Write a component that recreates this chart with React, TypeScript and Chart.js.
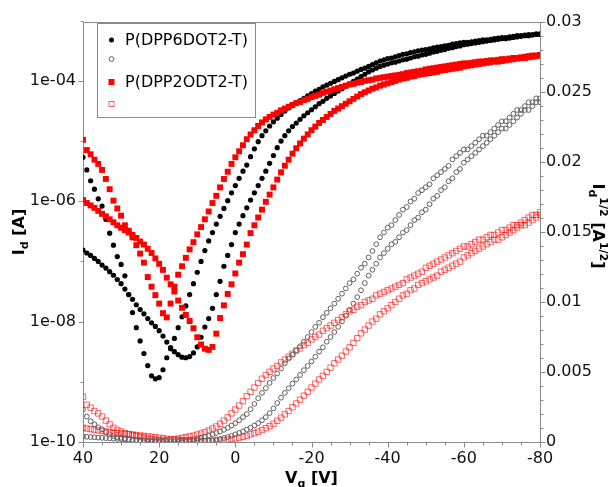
import React, { useEffect, useRef } from 'react';
import { Chart, registerables } from 'chart.js';

Chart.register(...registerables);

// Gate voltage sweep grid [V]
const VG = [
  40, 39, 38, 37, 36, 35, 34, 33, 32, 31,
  30, 29, 28, 27, 26, 25, 24, 23, 22, 21,
  20, 19, 18, 17, 16, 15, 14, 13, 12, 11,
  10, 9, 8, 7, 6, 5, 4, 3, 2, 1,
  0, -1, -2, -3, -4, -5, -6, -7, -8, -9,
  -10, -11, -12, -13, -14, -15, -16, -17, -18, -19,
  -20, -21, -22, -23, -24, -25, -26, -27, -28, -29,
  -30, -31, -32, -33, -34, -35, -36, -37, -38, -39,
  -40, -41, -42, -43, -44, -45, -46, -47, -48, -49,
  -50, -51, -52, -53, -54, -55, -56, -57, -58, -59,
  -60, -61, -62, -63, -64, -65, -66, -67, -68, -69,
  -70, -71, -72, -73, -74, -75, -76, -77, -78, -79,
  -80,
];

// log10(Id [A]) for P(DPP6DOT2-T), sweep A (sharp minimum)
const DPP6_SWEEP_A_LOG = [
  -5.27, -5.48, -5.66, -5.80, -5.96, -6.08, -6.30, -6.53, -6.73, -6.92,
  -7.05, -7.24, -7.55, -7.85, -8.10, -8.32, -8.53, -8.73, -8.90, -8.95,
  -8.93, -8.80, -8.60, -8.45, -8.28, -8.10, -7.92, -7.74, -7.55, -7.37,
  -7.18, -7.00, -6.82, -6.66, -6.52, -6.38, -6.25, -6.12, -5.99, -5.86,
  -5.74, -5.62, -5.50, -5.40, -5.26, -5.13, -5.01, -4.91, -4.83, -4.75,
  -4.68, -4.62, -4.56, -4.50, -4.45, -4.41, -4.37, -4.33, -4.29, -4.25,
  -4.21, -4.17, -4.14, -4.10, -4.07, -4.04, -4.01, -3.98, -3.95, -3.92,
  -3.89, -3.87, -3.84, -3.81, -3.79, -3.76, -3.73, -3.70, -3.67, -3.65,
  -3.63, -3.62, -3.60, -3.58, -3.56, -3.55, -3.53, -3.52, -3.50, -3.49,
  -3.48, -3.47, -3.45, -3.44, -3.43, -3.42, -3.41, -3.39, -3.38, -3.37,
  -3.36, -3.36, -3.35, -3.34, -3.33, -3.32, -3.32, -3.31, -3.30, -3.29,
  -3.28, -3.28, -3.27, -3.26, -3.25, -3.25, -3.24, -3.23, -3.23, -3.22,
  -3.22,
];

// log10(Id [A]) for P(DPP6DOT2-T), sweep B (shallow minimum)
const DPP6_SWEEP_B_LOG = [
  -6.81, -6.86, -6.90, -6.95, -7.00, -7.06, -7.11, -7.17, -7.23, -7.30,
  -7.37, -7.46, -7.55, -7.63, -7.72, -7.80, -7.87, -7.95, -8.02, -8.08,
  -8.15, -8.24, -8.34, -8.43, -8.50, -8.55, -8.59, -8.60, -8.58, -8.52,
  -8.42, -8.26, -8.09, -7.95, -7.78, -7.55, -7.33, -7.08, -6.90, -6.72,
  -6.52, -6.38, -6.24, -6.11, -5.98, -5.86, -5.74, -5.62, -5.50, -5.37,
  -5.24, -5.11, -5.00, -4.91, -4.83, -4.76, -4.70, -4.64, -4.58, -4.53,
  -4.48, -4.43, -4.38, -4.34, -4.29, -4.25, -4.21, -4.17, -4.13, -4.09,
  -4.05, -4.01, -3.97, -3.93, -3.89, -3.85, -3.82, -3.79, -3.76, -3.74,
  -3.72, -3.70, -3.69, -3.67, -3.65, -3.64, -3.62, -3.60, -3.59, -3.57,
  -3.56, -3.54, -3.52, -3.51, -3.49, -3.48, -3.46, -3.45, -3.43, -3.42,
  -3.40, -3.39, -3.38, -3.37, -3.36, -3.35, -3.34, -3.33, -3.32, -3.31,
  -3.30, -3.30, -3.29, -3.28, -3.27, -3.26, -3.25, -3.25, -3.24, -3.23,
  -3.23,
];

// log10(Id [A]) for P(DPP2ODT2-T), sweep A (sharp minimum)
const DPP2_SWEEP_A_LOG = [
  -4.98, -5.15, -5.22, -5.31, -5.38, -5.48, -5.63, -5.80, -5.99, -6.12,
  -6.24, -6.40, -6.49, -6.60, -6.73, -6.87, -7.02, -7.26, -7.42, -7.56,
  -7.70, -7.86, -7.93, -7.70, -7.42, -7.22, -7.08, -6.94, -6.80, -6.68,
  -6.55, -6.43, -6.30, -6.17, -6.03, -5.91, -5.77, -5.63, -5.51, -5.38,
  -5.27, -5.17, -5.07, -4.97, -4.89, -4.82, -4.75, -4.69, -4.64, -4.60,
  -4.56, -4.53, -4.49, -4.46, -4.43, -4.40, -4.37, -4.35, -4.32, -4.30,
  -4.27, -4.25, -4.23, -4.20, -4.18, -4.16, -4.14, -4.12, -4.10, -4.08,
  -4.06, -4.05, -4.03, -4.02, -4.00, -3.99, -3.98, -3.96, -3.95, -3.94,
  -3.93, -3.92, -3.91, -3.90, -3.89, -3.87, -3.86, -3.85, -3.84, -3.83,
  -3.81, -3.80, -3.79, -3.78, -3.77, -3.76, -3.75, -3.74, -3.73, -3.72,
  -3.71, -3.71, -3.70, -3.69, -3.68, -3.68, -3.67, -3.66, -3.66, -3.65,
  -3.64, -3.64, -3.63, -3.62, -3.62, -3.61, -3.60, -3.59, -3.58, -3.58,
  -3.57,
];

// log10(Id [A]) for P(DPP2ODT2-T), sweep B (shallow minimum)
const DPP2_SWEEP_B_LOG = [
  -5.98, -6.03, -6.07, -6.11, -6.16, -6.21, -6.25, -6.30, -6.35, -6.40,
  -6.44, -6.48, -6.52, -6.56, -6.61, -6.67, -6.72, -6.79, -6.86, -6.95,
  -7.04, -7.14, -7.27, -7.38, -7.50, -7.65, -7.77, -7.89, -7.99, -8.11,
  -8.26, -8.38, -8.45, -8.47, -8.42, -8.20, -7.94, -7.73, -7.54, -7.38,
  -7.20, -7.02, -6.88, -6.72, -6.53, -6.40, -6.27, -6.14, -6.01, -5.89,
  -5.77, -5.64, -5.52, -5.41, -5.31, -5.21, -5.12, -5.04, -4.96, -4.89,
  -4.82, -4.76, -4.70, -4.65, -4.60, -4.55, -4.50, -4.46, -4.42, -4.38,
  -4.34, -4.30, -4.26, -4.22, -4.19, -4.16, -4.13, -4.11, -4.08, -4.06,
  -4.04, -4.02, -4.00, -3.98, -3.96, -3.95, -3.93, -3.92, -3.90, -3.89,
  -3.88, -3.87, -3.86, -3.85, -3.83, -3.82, -3.81, -3.80, -3.79, -3.78,
  -3.76, -3.75, -3.74, -3.73, -3.72, -3.71, -3.70, -3.69, -3.68, -3.68,
  -3.67, -3.66, -3.65, -3.64, -3.63, -3.62, -3.62, -3.61, -3.60, -3.59,
  -3.58,
];

const LEGEND_LABELS = ['P(DPP6DOT2-T)', '', 'P(DPP2ODT2-T)', ''];

const X_TICKS = [40, 20, 0, -20, -40, -60, -80];
const X_TICK_LABELS = ['40', '20', '0', '-20', '-40', '-60', '-80'];
const Y_LOG_TICKS = [1e-10, 1e-8, 1e-6, 1e-4];
const Y_LOG_TICK_LABELS = ['1e-10', '1e-08', '1e-06', '1e-04'];
const Y_LOG_MINOR = [1e-9, 1e-7, 1e-5, 1e-3];
const Y2_TICKS = [0, 0.005, 0.01, 0.015, 0.02, 0.025, 0.03];
const Y2_TICK_LABELS = ['0', '0.005', '0.01', '0.015', '0.02', '0.025', '0.03'];

const FONT = '"DejaVu Sans", Verdana, sans-serif';
const AXIS_COLOR = '#8a8a8a';

type Seg = { t: string; size: number; dy: number };

function idPoints(logA: number[], logB: number[]) {
  const a = VG.map((v, i) => ({ x: v, y: Math.pow(10, logA[i]) }));
  const b = VG.map((v, i) => ({ x: v, y: Math.pow(10, logB[i]) }));
  return a.concat(b);
}
function sqrtPoints(logA: number[], logB: number[]) {
  const a = VG.map((v, i) => ({ x: v, y: Math.sqrt(Math.pow(10, logA[i])) }));
  const b = VG.map((v, i) => ({ x: v, y: Math.sqrt(Math.pow(10, logB[i])) }));
  return a.concat(b);
}

function drawRich(ctx: CanvasRenderingContext2D, segs: Seg[], cx: number, cy: number, rot: number) {
  ctx.save();
  ctx.translate(cx, cy);
  ctx.rotate(rot);
  ctx.fillStyle = '#000';
  ctx.textBaseline = 'alphabetic';
  ctx.textAlign = 'left';
  let total = 0;
  const widths: number[] = [];
  segs.forEach((s) => {
    ctx.font = `bold ${s.size}px ${FONT}`;
    const w = ctx.measureText(s.t).width;
    widths.push(w);
    total += w;
  });
  let x = -total / 2;
  segs.forEach((s, i) => {
    ctx.font = `bold ${s.size}px ${FONT}`;
    ctx.fillText(s.t, x, 6 + s.dy);
    x += widths[i];
  });
  ctx.restore();
}

const decorPlugin = {
  id: 'decor',
  afterDraw(chart: any) {
    const { ctx, chartArea: a, scales } = chart;
    const sx = scales.x;
    const sy = scales.y;
    const sy2 = scales.y2;
    ctx.save();
    ctx.strokeStyle = AXIS_COLOR;
    ctx.lineWidth = 1;
    const line = (x1: number, y1: number, x2: number, y2: number) => {
      ctx.beginPath();
      ctx.moveTo(x1, y1);
      ctx.lineTo(x2, y2);
      ctx.stroke();
    };
    // top frame
    line(a.left, Math.round(a.top) + 0.5, a.right, Math.round(a.top) + 0.5);
    const bottom = Math.round(a.bottom) + 0.5;
    // x ticks (major every 20, minor every 5)
    for (let v = -80; v <= 40; v += 5) {
      const px = Math.round(sx.getPixelForValue(v)) + 0.5;
      const len = v % 20 === 0 ? 5 : 3;
      line(px, bottom, px, bottom + len);
    }
    // left log ticks
    const left = Math.round(a.left) + 0.5;
    Y_LOG_TICKS.forEach((v) => {
      const py = Math.round(sy.getPixelForValue(v)) + 0.5;
      line(left - 5, py, left, py);
    });
    Y_LOG_MINOR.forEach((v) => {
      const py = Math.round(sy.getPixelForValue(v)) + 0.5;
      if (py >= a.top - 1) line(left - 3, py, left, py);
    });
    // right linear ticks
    const right = Math.round(a.right) + 0.5;
    for (let k = 0; k <= 30; k++) {
      const py = Math.round(sy2.getPixelForValue(k / 1000)) + 0.5;
      const len = k % 5 === 0 ? 5 : 3;
      line(right, py, right + len, py);
    }

    // axis titles
    drawRich(ctx, [
      { t: 'I', size: 16, dy: 0 },
      { t: 'd', size: 11, dy: 4 },
      { t: ' [A]', size: 16, dy: 0 },
    ], 18, (a.top + a.bottom) / 2, -Math.PI / 2);
    drawRich(ctx, [
      { t: 'V', size: 16, dy: 0 },
      { t: 'g', size: 11, dy: 4 },
      { t: ' [V]', size: 16, dy: 0 },
    ], (a.left + a.right) / 2, 477, 0);
    drawRich(ctx, [
      { t: 'I', size: 16, dy: 0 },
      { t: 'd', size: 11, dy: 4 },
      { t: '1/2', size: 11, dy: -7 },
      { t: ' [A', size: 16, dy: 0 },
      { t: '1/2', size: 11, dy: -7 },
      { t: ']', size: 16, dy: 0 },
    ], 599, 226, Math.PI / 2);

    // legend box
    const bx = 97.5, by = 23.5, bw = 158, bh = 94;
    ctx.fillStyle = '#fff';
    ctx.fillRect(bx, by, bw, bh);
    ctx.strokeStyle = AXIS_COLOR;
    ctx.strokeRect(bx, by, bw, bh);
    const rows = [40, 59, 82, 104];
    const mx = 111.5;
    // black filled circle
    ctx.fillStyle = '#000';
    ctx.beginPath();
    ctx.arc(mx, rows[0], 2.5, 0, Math.PI * 2);
    ctx.fill();
    // gray open circle
    ctx.strokeStyle = '#606060';
    ctx.beginPath();
    ctx.arc(mx, rows[1], 2.4, 0, Math.PI * 2);
    ctx.stroke();
    // red filled square
    ctx.fillStyle = '#ff0000';
    ctx.fillRect(mx - 3, rows[2] - 3, 6, 6);
    // red open square
    ctx.strokeStyle = 'rgba(255,0,0,0.65)';
    ctx.strokeRect(mx - 2.5, rows[3] - 2.5, 5, 5);
    ctx.fillStyle = '#000';
    ctx.font = `16px ${FONT}`;
    ctx.textBaseline = 'middle';
    ctx.textAlign = 'left';
    LEGEND_LABELS.forEach((lab, i) => {
      if (lab) ctx.fillText(lab, 125, rows[i] + 1);
    });
    ctx.restore();
  },
};

export default function App() {
  const ref = useRef<HTMLCanvasElement | null>(null);

  useEffect(() => {
    if (!ref.current) return;
    const tickFont = { family: FONT, size: 16 };
    const chart = new Chart(ref.current, {
      type: 'scatter',
      data: {
        datasets: [
          {
            label: LEGEND_LABELS[2],
            data: idPoints(DPP2_SWEEP_A_LOG, DPP2_SWEEP_B_LOG),
            yAxisID: 'y',
            pointStyle: 'rect',
            pointRadius: 4.2,
            backgroundColor: '#ff0000',
            borderWidth: 0,
            order: 0,
          },
          {
            label: LEGEND_LABELS[0],
            data: idPoints(DPP6_SWEEP_A_LOG, DPP6_SWEEP_B_LOG),
            yAxisID: 'y',
            pointStyle: 'circle',
            pointRadius: 2.6,
            backgroundColor: '#000',
            borderWidth: 0,
            order: 1,
          },
          {
            label: LEGEND_LABELS[1],
            data: sqrtPoints(DPP6_SWEEP_A_LOG, DPP6_SWEEP_B_LOG),
            yAxisID: 'y2',
            pointStyle: 'circle',
            pointRadius: 2.4,
            backgroundColor: 'rgba(0,0,0,0)',
            borderColor: '#606060',
            borderWidth: 1,
            order: 2,
          },
          {
            label: LEGEND_LABELS[3],
            data: sqrtPoints(DPP2_SWEEP_A_LOG, DPP2_SWEEP_B_LOG),
            yAxisID: 'y2',
            pointStyle: 'rect',
            pointRadius: 3.8,
            backgroundColor: 'rgba(0,0,0,0)',
            borderColor: 'rgba(255,0,0,0.6)',
            borderWidth: 1,
            order: 3,
          },
        ],
      },
      options: {
        responsive: false,
        animation: false,
        devicePixelRatio: 1,
        events: [],
        layout: { padding: { top: 22, left: 0, right: 0, bottom: 0 } },
        plugins: {
          legend: { display: false },
          tooltip: { enabled: false },
          title: { display: false },
        },
        scales: {
          x: {
            type: 'linear',
            position: 'bottom',
            reverse: true,
            min: -80,
            max: 40,
            afterFit: (s: any) => { s.height = 45; },
            afterBuildTicks: (s: any) => { s.ticks = X_TICKS.map((v) => ({ value: v })); },
            ticks: {
              font: tickFont,
              color: '#111',
              padding: 2,
              maxRotation: 0,
              autoSkip: false,
              callback: (_v: any, i: number) => X_TICK_LABELS[i],
            },
            grid: { display: false, drawTicks: true, tickLength: 5 },
            border: { display: true, color: AXIS_COLOR, width: 1 },
          },
          y: {
            type: 'logarithmic',
            position: 'left',
            min: 1e-10,
            max: 9.5e-4,
            afterFit: (s: any) => { s.width = 83; },
            afterBuildTicks: (s: any) => { s.ticks = Y_LOG_TICKS.map((v) => ({ value: v })); },
            ticks: {
              font: tickFont,
              color: '#111',
              padding: 2,
              autoSkip: false,
              callback: (_v: any, i: number) => Y_LOG_TICK_LABELS[i],
            },
            grid: { display: false, drawTicks: true, tickLength: 5 },
            border: { display: true, color: AXIS_COLOR, width: 1 },
          },
          y2: {
            type: 'linear',
            position: 'right',
            min: 0,
            max: 0.03,
            afterFit: (s: any) => { s.width = 71; },
            afterBuildTicks: (s: any) => { s.ticks = Y2_TICKS.map((v) => ({ value: v })); },
            ticks: {
              font: tickFont,
              color: '#111',
              padding: 1,
              autoSkip: false,
              callback: (_v: any, i: number) => Y2_TICK_LABELS[i],
            },
            grid: { display: false, drawTicks: true, tickLength: 5 },
            border: { display: true, color: AXIS_COLOR, width: 1 },
          },
        },
      },
      plugins: [decorPlugin],
    } as any);
    return () => chart.destroy();
  }, []);

  return (
    <div style={{ position: 'absolute', left: 0, top: 0, width: 611, height: 487, background: '#fff' }}>
      <canvas ref={ref} width={611} height={487} style={{ display: 'block' }} />
    </div>
  );
}
